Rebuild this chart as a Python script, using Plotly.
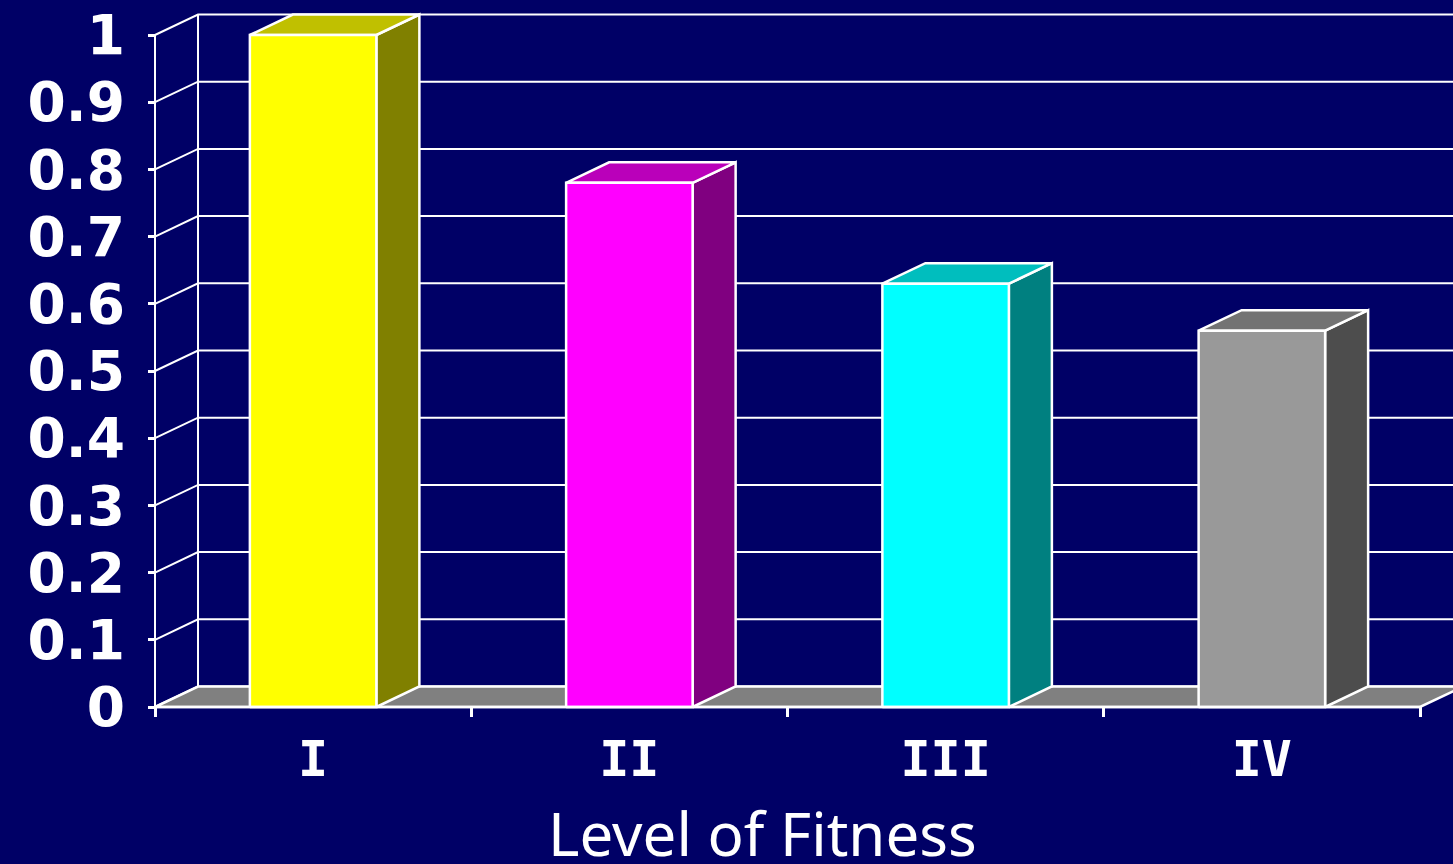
import plotly.graph_objects as go

# ---- data ----
levels = ["I", "II", "III", "IV"]
values = [1.00, 0.78, 0.63, 0.56]

front_colors = ["#FFFF00", "#FF00FF", "#00FFFF", "#999999"]
top_colors = ["#C0C000", "#BA00BA", "#00BEBE", "#737373"]
side_colors = ["#808000", "#800080", "#008080", "#4D4D4D"]

y_ticks = [0, 0.1, 0.2, 0.3, 0.4, 0.5, 0.6, 0.7, 0.8, 0.9, 1.0]
y_tick_text = ["0", "0.1", "0.2", "0.3", "0.4", "0.5", "0.6", "0.7", "0.8", "0.9", "1"]

axis_title = "Level of Fitness"

# ---- pseudo-3D geometry (axis units) ----
BG = "#000066"
EDGE = "white"
BAR_HALF = 0.2          # half width of a bar's front face
DX = 0.136              # depth offset along x
DY = 0.0305             # depth offset along y
X_LO, X_HI = -0.5, len(levels) - 0.5
X_RANGE = [-0.52213, 3.60435]
Y_RANGE = [-0.01488, 1.05208]

fig = go.Figure()


def poly(xs, ys, fill, width=2.5):
    fig.add_trace(go.Scatter(
        x=xs + [xs[0]], y=ys + [ys[0]], mode="lines", fill="toself",
        fillcolor=fill, line=dict(color=EDGE, width=width),
        hoverinfo="skip", showlegend=False))


def lines(xs, ys, width=2):
    fig.add_trace(go.Scatter(
        x=xs, y=ys, mode="lines", line=dict(color=EDGE, width=width),
        hoverinfo="skip", showlegend=False))


# back wall gridlines and the slanted side-wall lines
gx, gy = [], []
for v in y_ticks:
    gx += [X_LO, X_LO + DX, X_RANGE[1] + 0.2, None]
    gy += [v, v + DY, v + DY, None]
lines(gx, gy)

# back edge of the side wall and the front value axis
lines([X_LO + DX, X_LO + DX, None, X_LO, X_LO],
      [DY, y_ticks[-1] + DY, None, 0, y_ticks[-1]])

# floor
poly([X_LO, X_HI, X_HI + DX, X_LO + DX], [0, 0, DY, DY], "#808080")

# bars: side, top, front
for i, v in enumerate(values):
    xl, xr = i - BAR_HALF, i + BAR_HALF
    poly([xr, xr + DX, xr + DX, xr], [0, DY, v + DY, v], side_colors[i])
    poly([xl, xr, xr + DX, xl + DX], [v, v, v + DY, v + DY], top_colors[i])
    poly([xl, xr, xr, xl], [0, 0, v, v], front_colors[i])

# front edge of the category axis
lines([X_LO, X_HI], [0, 0], width=2.5)

fig.update_layout(
    width=1453, height=864,
    margin=dict(l=148, r=0, t=0, b=147),
    paper_bgcolor=BG, plot_bgcolor=BG,
    showlegend=False,
    xaxis=dict(
        range=X_RANGE, showgrid=False, zeroline=False, showline=False,
        tickmode="array", tickvals=list(range(len(levels))), ticktext=levels,
        ticks="", ticklabelstandoff=8,
        tickfont=dict(family="DejaVu Sans Mono", size=50, color="white", weight="bold"),
        minor=dict(tickvals=[k - 0.5 for k in range(len(levels) + 1)],
                   ticks="inside", ticklen=10, tickwidth=2.5, tickcolor="white",
                   showgrid=False),
        fixedrange=True,
    ),
    yaxis=dict(
        range=Y_RANGE, showgrid=False, zeroline=False, showline=False,
        tickmode="array", tickvals=y_ticks, ticktext=y_tick_text,
        ticks="inside", ticklen=7, tickwidth=2.5, tickcolor="white",
        ticklabelstandoff=22,
        tickfont=dict(family="DejaVu Sans", size=55, color="white", weight="bold"),
        fixedrange=True,
    ),
    annotations=[dict(
        text=axis_title, xref="paper", yref="paper",
        x=(762 - 148) / 1305, y=-(833 - 717) / 717,
        xanchor="center", yanchor="middle", showarrow=False,
        font=dict(family="Noto Sans", size=60, color="white"),
    )],
)

fig.write_html("out.html")
